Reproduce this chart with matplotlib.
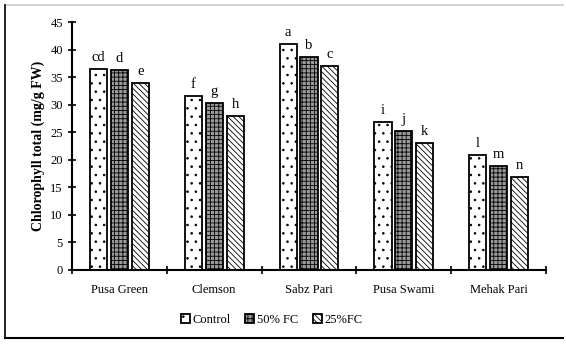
import matplotlib.pyplot as plt
import numpy as np
from matplotlib.lines import Line2D

plt.rcParams['font.family'] = ['Liberation Serif', 'DejaVu Serif']
plt.rcParams['hatch.linewidth'] = 0.6

# Chlorophyll values
varieties = ['Pusa Green', 'Clemson', 'Sabz Pari', 'Pusa Swami', 'Mehak Pari']
control = [36.5, 31.6, 41.1, 26.9, 20.9]
fc50 = [36.3, 30.3, 38.7, 25.2, 18.8]
fc25 = [34.0, 28.0, 37.0, 23.0, 16.9]
letters = [['cd', 'd', 'e'], ['f', 'g', 'h'], ['a', 'b', 'c'],
           ['i', 'j', 'k'], ['l', 'm', 'n']]
series_names = ['Control', '50% FC', '25%FC']

fig = plt.figure(figsize=(5.66, 3.46), dpi=100)
ax = fig.add_axes([0.127, 0.22, 0.838, 0.716])

x = np.arange(1, 6)
w = 0.18
step = 0.22
styles = [dict(facecolor='white', hatch='..'),
          dict(facecolor='#9a9a9a', hatch='++++'),
          dict(facecolor='white', hatch='\\\\\\\\\\\\')]

handles = []
for i, vals in enumerate([control, fc50, fc25]):
    pos = x + (i - 1) * step
    bars = ax.bar(pos, vals, width=w, edgecolor='black', linewidth=1.3,
                  label=series_names[i], **styles[i])
    handles.append(bars)
    for j, b in enumerate(bars):
        ax.text(b.get_x() + b.get_width() / 2, vals[j] + 0.9, letters[j][i],
                ha='center', va='bottom', fontsize=10.5)

ax.set_xlim(0.5, 5.5)
ax.set_ylim(0, 45)
ax.set_yticks(np.arange(0, 46, 5))
ax.set_xticks(x)
ax.set_xticklabels(varieties, fontsize=9)
ax.set_xticks(np.arange(0.5, 5.6, 1), minor=True)
ax.tick_params(axis='x', which='major', length=0, pad=10)
ax.tick_params(axis='x', which='minor', direction='inout', length=6, width=1.2)
ax.tick_params(axis='y', direction='inout', length=6, width=1.2, labelsize=9)
for s in ['top', 'right']:
    ax.spines[s].set_visible(False)
for s in ['left', 'bottom']:
    ax.spines[s].set_linewidth(1.5)
ax.set_ylabel('Chlorophyll total (mg/g FW)', fontsize=10, fontweight='bold')

fig.legend(handles=handles, labels=series_names, loc='center',
           bbox_to_anchor=(0.48, 0.075), ncol=3, frameon=False,
           handlelength=0.7, handleheight=0.7, handletextpad=0.2,
           columnspacing=1.2, fontsize=9)

# figure frame
fig.add_artist(Line2D([0.009, 0.995], [0.985, 0.985], color='#cccccc', lw=1.2,
                      transform=fig.transFigure))
fig.add_artist(Line2D([0.009, 0.009], [0.023, 0.985], color='black', lw=1.2,
                      transform=fig.transFigure))
fig.add_artist(Line2D([0.009, 0.995], [0.023, 0.023], color='black', lw=1.5,
                      transform=fig.transFigure))

fig.savefig('out.png', dpi=100)
